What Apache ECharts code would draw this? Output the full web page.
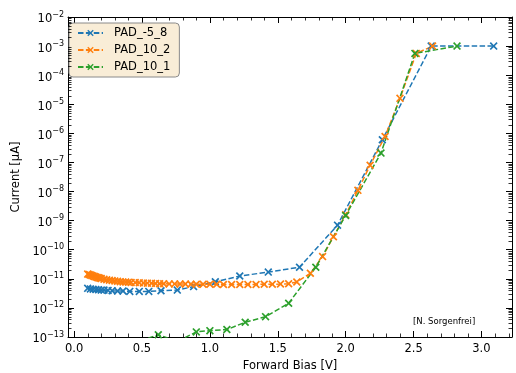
<!DOCTYPE html>
<html><head><meta charset="utf-8">
<script src="https://cdn.jsdelivr.net/npm/echarts@6/dist/echarts.min.js"></script>
<style>html,body{margin:0;padding:0;background:#fff}#c{width:516px;height:373px}</style>
</head><body><div id="c"></div>
<script>
// ---- data ----
const seriesNames = ['PAD_-5_8', 'PAD_10_2', 'PAD_10_1'];
const pad5_8_V = [0.10,0.12,0.14,0.16,0.18,0.20,0.22,0.25,0.28,0.32,0.36,0.41,0.48,0.55,0.64,0.76,0.88,1.04,1.22,1.43,1.66,1.94,2.27,2.63,3.09];
const pad5_8_I = [4.7e-12,4.5e-12,4.4e-12,4.3e-12,4.2e-12,4.1e-12,4.1e-12,4.0e-12,3.9e-12,3.8e-12,3.8e-12,3.7e-12,3.7e-12,3.7e-12,3.9e-12,4.1e-12,5.4e-12,7.9e-12,1.25e-11,1.7e-11,2.5e-11,7e-10,6e-7,1e-3,1e-3];
const pad10_2_V = [0.10,0.11,0.12,0.13,0.14,0.15,0.16,0.17,0.18,0.19,0.20,0.22,0.24,0.26,0.28,0.30,0.32,0.34,0.36,0.38,0.40,0.42,0.45,0.48,0.51,0.54,0.57,0.60,0.63,0.66,0.70,0.74,0.78,0.82,0.86,0.90,0.95,1.00,1.05,1.10,1.16,1.22,1.28,1.34,1.40,1.46,1.52,1.58,1.64,1.74,1.83,1.91,2.00,2.09,2.18,2.29,2.40,2.52,2.64];
const pad10_2_I = [1.45e-11,1.4e-11,1.35e-11,1.3e-11,1.25e-11,1.2e-11,1.15e-11,1.12e-11,1.08e-11,1.05e-11,1.02e-11,9.7e-12,9.3e-12,9.0e-12,8.7e-12,8.4e-12,8.2e-12,8.0e-12,7.8e-12,7.7e-12,7.6e-12,7.5e-12,7.4e-12,7.3e-12,7.2e-12,7.1e-12,7.0e-12,6.9e-12,6.8e-12,6.8e-12,6.7e-12,6.7e-12,6.6e-12,6.6e-12,6.5e-12,6.5e-12,6.5e-12,6.5e-12,6.5e-12,6.4e-12,6.4e-12,6.4e-12,6.4e-12,6.4e-12,6.5e-12,6.5e-12,6.6e-12,6.8e-12,7.8e-12,1.55e-11,5.8e-11,2.8e-10,1.6e-9,1.1e-8,8e-8,7.8e-7,1.6e-5,5.6e-4,1e-3];
const pad10_1_V = [0.38,0.62,0.76,0.90,1.00,1.125,1.26,1.41,1.58,1.78,2.00,2.26,2.51,2.82];
const pad10_1_I = [5e-14,1.2e-13,7e-14,1.5e-13,1.65e-13,1.8e-13,3.2e-13,5e-13,1.45e-12,2.5e-11,1.5e-9,2.1e-7,5.6e-4,1e-3];
const xTickLabels = ['0.0','0.5','1.0','1.5','2.0','2.5','3.0'];
const yDecades = [-13,-12,-11,-10,-9,-8,-7,-6,-5,-4,-3,-2];
const xTitle = 'Forward Bias [V]';
const yTitle = 'Current [μA]';
const credit = '[N. Sorgenfrei]';

// ---- chart ----
const colors = ['#1f77b4', '#ff7f0e', '#2ca02c'];
const FONT = 'DejaVu Sans';
const X_MIN = -0.045, X_MAX = 3.225, Y_MIN = 1e-13, Y_MAX = 1e-2;
const xMark = 'path://M0,1.5L1.5,0L5,3.5L8.5,0L10,1.5L6.5,5L10,8.5L8.5,10L5,6.5L1.5,10L0,8.5L3.5,5Z';

function zip(a, b) { return a.map((v, i) => [v, b[i]]); }

// minor tick positions (axis decoration)
const tickData = [];
for (let i = 0; i < yDecades.length - 1; i++) {
  for (let k = 2; k <= 9; k++) tickData.push([0.5, k * Math.pow(10, yDecades[i]), 0]);
}
for (let t = 1; t <= 32; t++) { if (t % 5 !== 0) tickData.push([t / 10, 1e-5, 1]); }

function yLabel(v) {
  const e = Math.round(Math.log10(v));
  return '{b|10}{s|' + (e < 0 ? '\u2212' + (-e) : e) + '}';
}
function xLabel(v) {
  const s = (Math.round(v * 10) / 10).toFixed(1);
  return (Math.abs(v * 2 - Math.round(v * 2)) < 1e-6 && xTickLabels.indexOf(s) >= 0) ? s : '';
}

const axisCommon = {
  axisLine: { show: true, onZero: false, lineStyle: { color: '#000', width: 1 } },
  axisTick: { show: true, inside: true, length: 6, lineStyle: { color: '#000', width: 1 } },
  splitLine: { show: false }
};

const mkSeries = (name, V, I, c) => ({
  name, type: 'line', data: zip(V, I), color: c,
  symbol: xMark, symbolSize: 8, showAllSymbol: true, clip: true,
  lineStyle: { color: c, width: 1.5, type: [5.5, 2.4] },
  itemStyle: { color: c },
  emphasis: { disabled: true }, animation: false
});

const chart = echarts.init(document.getElementById('c'), null, { renderer: 'canvas' });
chart.setOption({
  animation: false,
  backgroundColor: '#fff',
  textStyle: { fontFamily: FONT },
  grid: { left: 68, right: 4, top: 17, bottom: 36, containLabel: false, outerBoundsMode: 'none' },
  xAxis: [
    Object.assign({}, axisCommon, {
      type: 'value', min: X_MIN, max: X_MAX, position: 'bottom',
      axisLabel: { formatter: xLabel, margin: 6, fontSize: 11.5, color: '#000', fontFamily: FONT, showMinLabel: false, showMaxLabel: false },
      name: xTitle, nameLocation: 'middle', nameGap: 22,
      nameTextStyle: { fontSize: 11.5, color: '#000', fontFamily: FONT }
    }),
    Object.assign({}, axisCommon, {
      type: 'value', min: X_MIN, max: X_MAX, position: 'top',
      axisLabel: { show: false }
    })
  ],
  yAxis: [
    Object.assign({}, axisCommon, {
      type: 'log', logBase: 10, min: Y_MIN, max: Y_MAX, interval: 1, position: 'left',
      axisLabel: {
        formatter: yLabel, margin: 4, color: '#000', fontFamily: FONT,
        rich: {
          b: { fontSize: 11.5, fontFamily: FONT, color: '#000', padding: [5, 0, 0, 0] },
          s: { fontSize: 8, fontFamily: FONT, color: '#000', padding: [0, 0, 5, 0] }
        }
      },
      name: yTitle, nameLocation: 'middle', nameGap: 40, nameRotate: 90,
      nameTextStyle: { fontSize: 11.5, color: '#000', fontFamily: FONT }
    }),
    Object.assign({}, axisCommon, {
      type: 'log', logBase: 10, min: Y_MIN, max: Y_MAX, interval: 1, position: 'right',
      axisLabel: { show: false }
    })
  ],
  legend: {
    data: seriesNames, orient: 'vertical', left: 69, top: 23,
    itemWidth: 25, itemHeight: 8, itemGap: 5,
    padding: [4, 9, 4, 8],
    backgroundColor: 'rgb(249,237,215)', borderColor: '#8a8a8a', borderWidth: 1, borderRadius: 4,
    textStyle: { fontSize: 11.5, color: '#000', fontFamily: FONT, padding: [0, 0, 0, 6] },
    selectedMode: false
  },
  graphic: [{
    type: 'text', left: 413, top: 317, silent: true,
    style: { text: credit, fontSize: 8.5, fontFamily: FONT, fill: '#000' }
  }],
  series: [
    mkSeries(seriesNames[0], pad5_8_V, pad5_8_I, colors[0]),
    mkSeries(seriesNames[1], pad10_2_V, pad10_2_I, colors[1]),
    mkSeries(seriesNames[2], pad10_1_V, pad10_1_I, colors[2]),
    {
      type: 'custom', data: tickData, clip: false, silent: true, z: 10,
      encode: { x: 0, y: 1 },
      renderItem: function (params, api) {
        const cs = params.coordSys;
        const st = { stroke: '#000', lineWidth: 0.8 };
        if (api.value(2) === 0) {
          const y = Math.round(api.coord([0.5, api.value(1)])[1]) + 0.5;
          return { type: 'group', children: [
            { type: 'line', shape: { x1: cs.x, y1: y, x2: cs.x + 3.5, y2: y }, style: st },
            { type: 'line', shape: { x1: cs.x + cs.width, y1: y, x2: cs.x + cs.width - 3.5, y2: y }, style: st }
          ] };
        } else {
          const x = Math.round(api.coord([api.value(0), 1e-5])[0]) + 0.5;
          return { type: 'group', children: [
            { type: 'line', shape: { x1: x, y1: cs.y + cs.height, x2: x, y2: cs.y + cs.height - 3.5 }, style: st },
            { type: 'line', shape: { x1: x, y1: cs.y, x2: x, y2: cs.y + 3.5 }, style: st }
          ] };
        }
      }
    }
  ]
});
</script></body></html>
